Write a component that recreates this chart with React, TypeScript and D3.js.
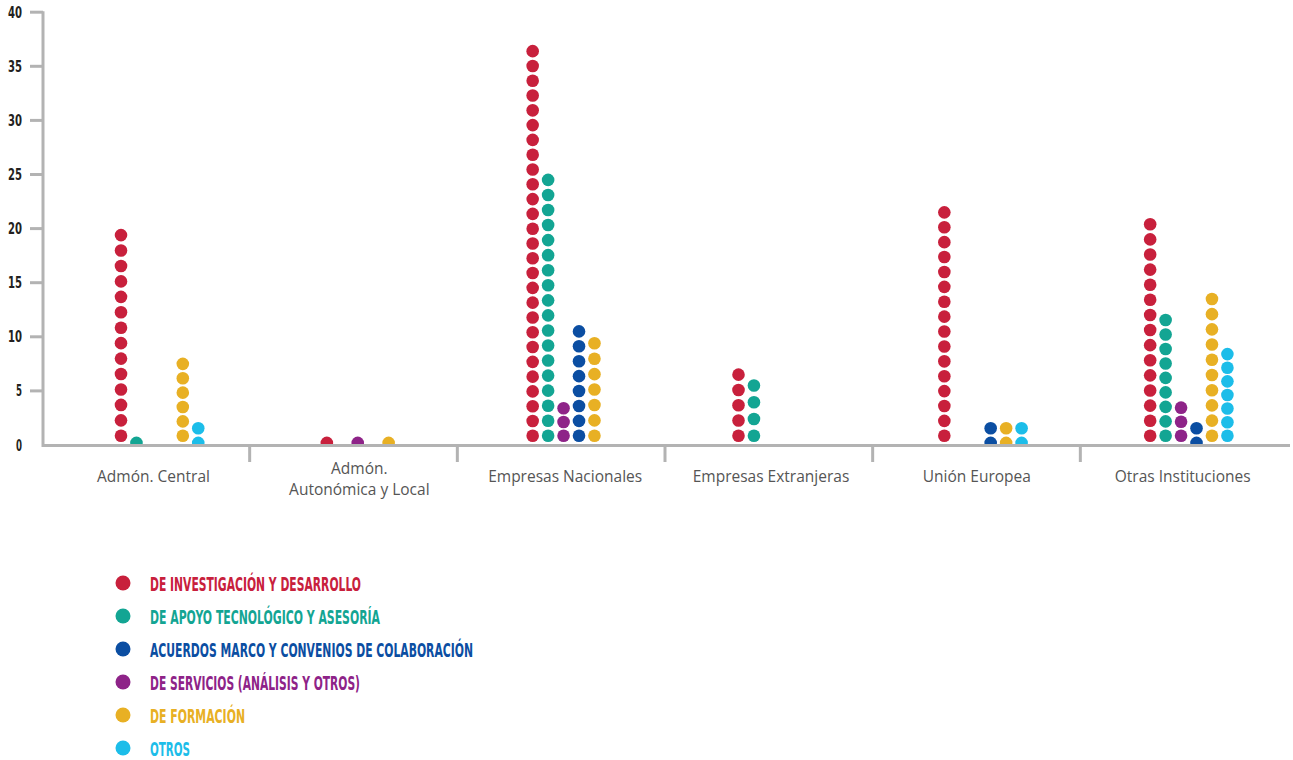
import React from "react";
import * as d3 from "d3";

const categories = [
  ["Admón. Central"],
  ["Admón.", "Autonómica y Local"],
  ["Empresas Nacionales"],
  ["Empresas Extranjeras"],
  ["Unión Europea"],
  ["Otras Instituciones"],
];

const seriesNames = [
  "DE INVESTIGACIÓN Y DESARROLLO",
  "DE APOYO TECNOLÓGICO Y ASESORÍA",
  "ACUERDOS MARCO Y CONVENIOS DE COLABORACIÓN",
  "DE SERVICIOS (ANÁLISIS Y OTROS)",
  "DE FORMACIÓN",
  "OTROS",
];
const seriesColors = ["#c8203c", "#13a593", "#0b4ea2", "#8e2388", "#e8b024", "#1cbde9"];
// column slot of each series inside a category group
const seriesSlot = [0, 1, 3, 2, 4, 5];

// number of dots per category
const idCounts = [14, 1, 27, 5, 16, 15];
const apoyoCounts = [1, 0, 18, 4, 0, 9];
const acuerdosCounts = [0, 0, 8, 0, 2, 2];
const serviciosCounts = [0, 1, 3, 0, 0, 3];
const formacionCounts = [6, 1, 7, 0, 2, 10];
const otrosCounts = [2, 0, 0, 0, 2, 7];

// value of the top dot per category
const idTops = [19.4, 0.2, 36.4, 6.5, 21.5, 20.4];
const apoyoTops = [0.2, 0, 24.5, 5.5, 0, 11.55];
const acuerdosTops = [0, 0, 10.5, 0, 1.55, 1.55];
const serviciosTops = [0, 0.2, 3.4, 0, 0, 3.45];
const formacionTops = [7.5, 0.2, 9.4, 0, 1.55, 13.5];
const otrosTops = [1.55, 0, 0, 0, 1.55, 8.4];

const yTicks = [0, 5, 10, 15, 20, 25, 30, 35, 40];

const legendLengths = [211, 230, 323, 210, 95, 40];

const counts = [idCounts, apoyoCounts, acuerdosCounts, serviciosCounts, formacionCounts, otrosCounts];
const tops = [idTops, apoyoTops, acuerdosTops, serviciosTops, formacionTops, otrosTops];

export default function App() {
  const W = 1293, H = 760;
  const y = d3.scaleLinear().domain([0, 40]).range([445, 12.2]);
  const catKeys = categories.map((c) => c.join(" "));
  const axisBand = d3.scaleBand().domain(catKeys).range([42, 1288]);
  const dotBand = d3.scaleBand().domain(catKeys).range([42, 1277]);
  const slotStep = 15.45;
  const dotR = 6.3;

  const dots: { x: number; y: number; c: string; k: string }[] = [];
  seriesNames.forEach((_, s) => {
    catKeys.forEach((ck, ci) => {
      const n = counts[s][ci];
      if (!n) return;
      const top = tops[s][ci];
      const base = top < 2 ? 0.2 : 0.85;
      const cx = (dotBand(ck) as number) + 79 + seriesSlot[s] * slotStep;
      for (let i = 0; i < n; i++) {
        const v = n === 1 ? top : base + (i * (top - base)) / (n - 1);
        dots.push({ x: cx, y: y(v), c: seriesColors[s], k: `${s}-${ci}-${i}` });
      }
    });
  });

  const axisColor = "#b3b3b3";
  const condensed = "'Liberation Sans Narrow', 'DejaVu Sans Condensed', 'Roboto', sans-serif";

  return (
    <svg width={W} height={H} style={{ position: "absolute", left: 0, top: 0, background: "#fff" }}>
      <defs>
        <clipPath id="plotClip">
          <rect x={0} y={0} width={W} height={444} />
        </clipPath>
      </defs>
      {/* y axis */}
      <line x1={43} x2={43} y1={y(40) - 1} y2={447} stroke={axisColor} strokeWidth={3} />
      {yTicks.map((t) => (
        <g key={t}>
          {t > 0 && <line x1={30} x2={43} y1={y(t)} y2={y(t)} stroke={axisColor} strokeWidth={3} />}
          <text
            x={22}
            y={y(t) + 5.5}
            textAnchor="end"
            fontFamily={condensed}
            fontWeight="bold"
            fontSize={15}
            fill="#231f20"
            textLength={t >= 10 ? 14 : 6}
            lengthAdjust="spacingAndGlyphs"
          >
            {t}
          </text>
        </g>
      ))}
      {/* x axis */}
      <line x1={42} x2={1290} y1={445.5} y2={445.5} stroke={axisColor} strokeWidth={3} />
      {catKeys.slice(1).map((ck) => (
        <line
          key={ck}
          x1={axisBand(ck) as number}
          x2={axisBand(ck) as number}
          y1={445}
          y2={462}
          stroke={axisColor}
          strokeWidth={3}
        />
      ))}
      {categories.map((lines, ci) => {
        const cx = (dotBand(catKeys[ci]) as number) + 111.5;
        const y0 = lines.length === 1 ? 482 : 474;
        return (
          <text
            key={ci}
            textAnchor="middle"
            fontFamily="'Open Sans', 'Lato', sans-serif"
            fontSize={15.5}
            fill="#555"
          >
            {lines.map((l, li) => (
              <tspan key={li} x={cx} y={y0 + li * 20.5}>
                {l}
              </tspan>
            ))}
          </text>
        );
      })}
      {/* dots */}
      <g clipPath="url(#plotClip)">
        {dots.map((d) => (
          <circle key={d.k} cx={d.x} cy={d.y} r={dotR} fill={d.c} />
        ))}
      </g>
      {/* legend */}
      {seriesNames.map((name, s) => {
        const ly = 583 + s * 33;
        return (
          <g key={name}>
            <circle cx={123} cy={ly} r={7.5} fill={seriesColors[s]} />
            <text
              x={150}
              y={ly + 7.5}
              fontFamily={condensed}
              fontWeight="bold"
              fontSize={19}
              fill={seriesColors[s]}
              textLength={legendLengths[s]}
              lengthAdjust="spacingAndGlyphs"
            >
              {name}
            </text>
          </g>
        );
      })}
    </svg>
  );
}
